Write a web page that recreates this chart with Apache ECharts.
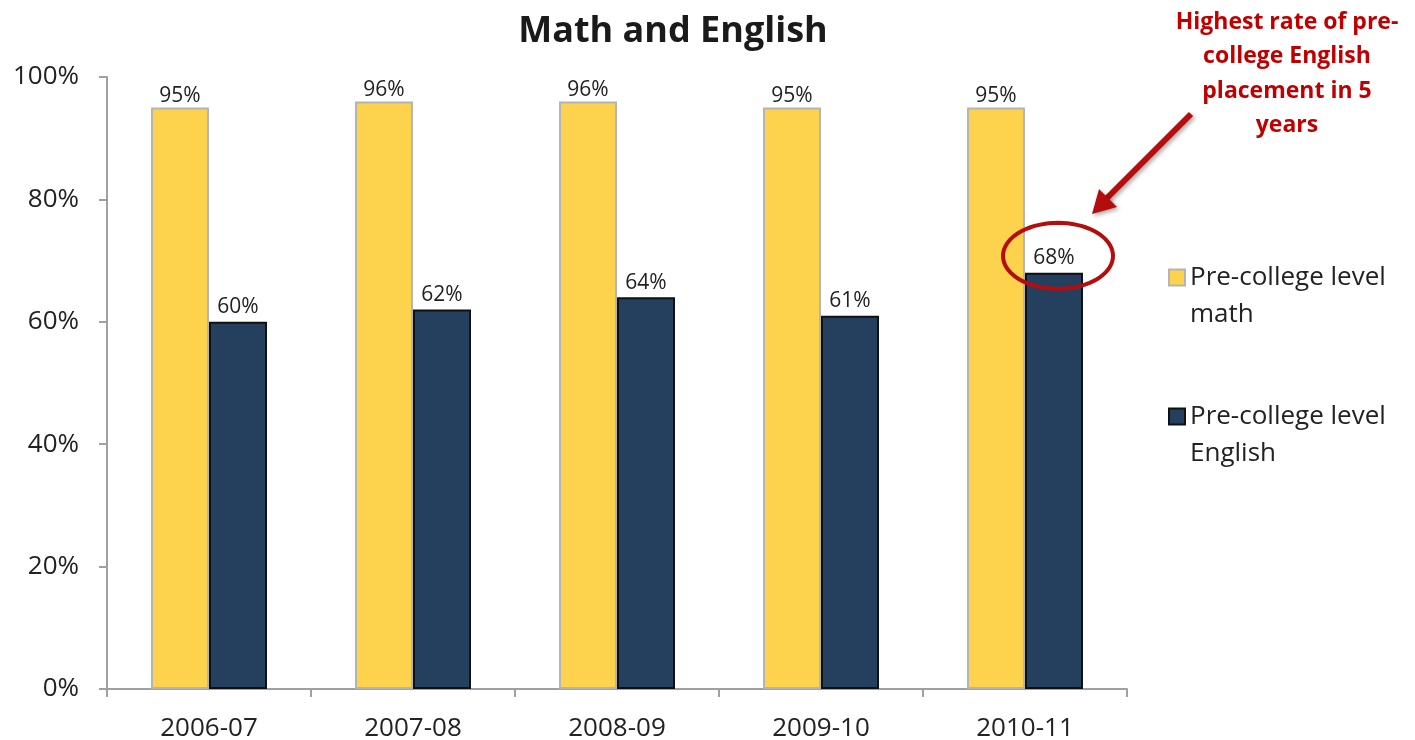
<!DOCTYPE html>
<html>
<head>
<meta charset="utf-8">
<script src="https://cdn.jsdelivr.net/npm/echarts@6/dist/echarts.min.js"></script>
<style>
  html, body { margin: 0; padding: 0; background: #fff; }
  #main { width: 1415px; height: 740px; }
</style>
</head>
<body>
<div id="main"></div>
<script>
var years = ['2006-07', '2007-08', '2008-09', '2009-10', '2010-11'];
var mathRate = [95, 96, 96, 95, 95];
var englishRate = [60, 62, 64, 61, 68];
var yTicks = [0, 20, 40, 60, 80, 100];

var font = 'Open Sans';
var myChart = echarts.init(document.getElementById('main'));

var option = {
    backgroundColor: '#ffffff',
    title: {
        text: 'Math and English',
        left: 668,
        textAlign: 'center',
        top: 9,
        textStyle: { fontFamily: font, fontSize: 36, fontWeight: 'bold', color: '#1a1a1a' }
    },
    legend: {
        orient: 'vertical',
        left: 1163,
        top: 217,
        icon: 'rect',
        itemWidth: 16,
        itemHeight: 16,
        itemGap: 28,
        // blank first line keeps the marker level with the first text line
        formatter: function (name) { return ' \n' + name.replace('level ', 'level\n'); },
        textStyle: { fontFamily: font, fontSize: 26, color: '#222', lineHeight: 37 },
        data: ['Pre-college level math', 'Pre-college level English']
    },
    grid: { left: 107, right: 288, top: 77, bottom: 51, outerBoundsMode: 'none' },
    xAxis: {
        type: 'category',
        data: years,
        axisLine: { lineStyle: { color: '#a0a0a0', width: 2 } },
        axisTick: { show: true, length: 8, lineStyle: { color: '#a0a0a0', width: 2 } },
        axisLabel: { fontFamily: font, fontSize: 26, color: '#222', margin: 27 }
    },
    yAxis: {
        type: 'value',
        min: yTicks[0],
        max: yTicks[yTicks.length - 1],
        interval: 20,
        axisLine: { show: true, lineStyle: { color: '#a0a0a0', width: 2 } },
        axisTick: { show: true, length: 8, lineStyle: { color: '#a0a0a0', width: 2 } },
        splitLine: { show: false },
        axisLabel: { fontFamily: font, fontSize: 26, color: '#222', margin: 28, formatter: '{value}%' }
    },
    series: [
        {
            name: 'Pre-college level math',
            type: 'bar',
            data: mathRate,
            barWidth: 58,
            barGap: '0%',
            itemStyle: { color: '#fdd24c', borderColor: '#b4b4b4', borderWidth: 2 },
            label: { show: true, position: 'top', distance: 1, formatter: '{c}%', fontFamily: font, fontSize: 21, color: '#222' }
        },
        {
            name: 'Pre-college level English',
            type: 'bar',
            data: englishRate,
            barWidth: 58,
            itemStyle: { color: '#253f5e', borderColor: '#111', borderWidth: 2 },
            label: { show: true, position: 'top', distance: 4, formatter: '{c}%', fontFamily: font, fontSize: 21, color: '#222' }
        }
    ]
};

myChart.setOption(option);

// annotation: ellipse round the highest English value, arrow and note
var p = myChart.convertToPixel({ seriesIndex: 1 }, [4, 68]);
var cx = p[0] + 33, cy = p[1] - 17;
var pts = [];
for (var i = 0; i < 72; i++) {
    var a = i / 72 * Math.PI * 2;
    pts.push([cx + 55 * Math.cos(a), cy + 33 * Math.sin(a)]);
}
myChart.setOption({
    graphic: [
        { type: 'polygon', shape: { points: pts }, style: { fill: 'none', stroke: '#b50d0d', lineWidth: 4 }, z: 100 },
        { type: 'line', shape: { x1: 1191, y1: 114, x2: 1104, y2: 201 }, style: { stroke: '#b50d0d', lineWidth: 6, shadowBlur: 4, shadowColor: 'rgba(0,0,0,0.35)', shadowOffsetX: 2, shadowOffsetY: 2 }, z: 100 },
        { type: 'polygon', shape: { points: [[1092, 214], [1099, 189], [1117, 207]] }, style: { fill: '#b50d0d', shadowBlur: 4, shadowColor: 'rgba(0,0,0,0.35)', shadowOffsetX: 2, shadowOffsetY: 2 }, z: 100 },
        { type: 'text', x: 1287, y: 5, style: { text: 'Highest rate of pre-\ncollege English\nplacement in 5\nyears', align: 'center', fontFamily: font, fontSize: 23, fontWeight: 'bold', lineHeight: 34.5, fill: '#c00000' }, z: 100 }
    ]
});
</script>
</body>
</html>
